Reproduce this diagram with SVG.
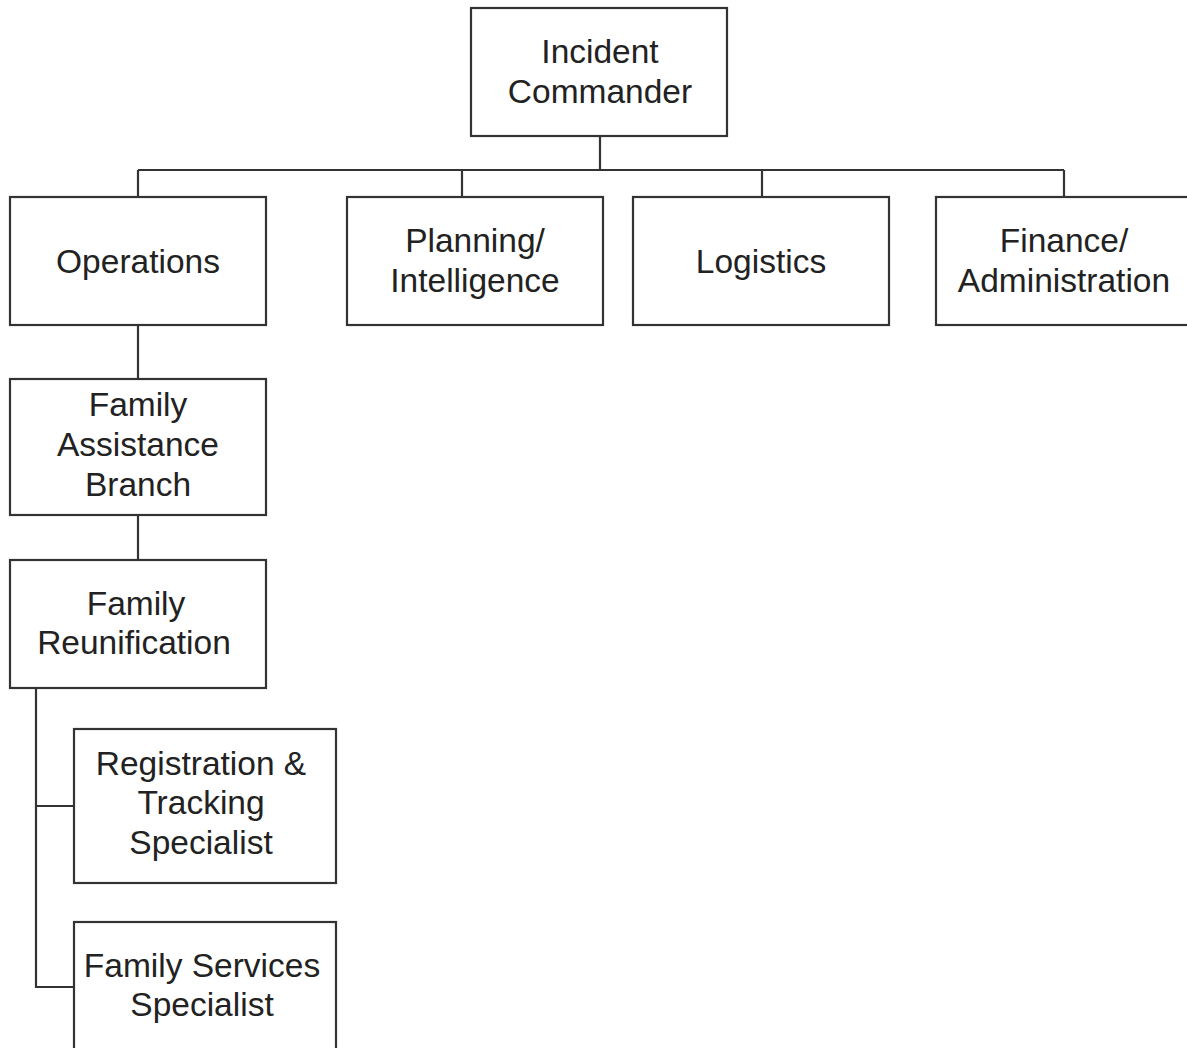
<svg xmlns="http://www.w3.org/2000/svg" width="1187" height="1048" viewBox="0 0 1187 1048">
<style>
.box{fill:#fff;stroke:#333;stroke-width:2.2}
.ln{fill:none;stroke:#333;stroke-width:2.2}
text{font-family:"Liberation Sans",Arial,sans-serif;font-size:33.5px;fill:#222;text-anchor:middle}
</style>
<rect width="1187" height="1048" fill="#fff"/>
<g id="connectors">
<path class="ln" d="M600 136V170M138 170H1064M138 170V197M462 170V197M762 170V197M1064 170V197"/>
<path class="ln" d="M138 325V379M138 515V560"/>
<path class="ln" d="M36 688V987H74M36 806H74"/>
</g>
<g id="incident-commander"><rect class="box" x="471" y="8" width="256" height="128"/><text x="600" y="63">Incident</text><text x="600" y="103">Commander</text></g>
<g id="operations"><rect class="box" x="10" y="197" width="256" height="128"/><text x="138" y="273">Operations</text></g>
<g id="planning"><rect class="box" x="347" y="197" width="256" height="128"/><text x="475" y="252">Planning/</text><text x="475" y="292">Intelligence</text></g>
<g id="logistics"><rect class="box" x="633" y="197" width="256" height="128"/><text x="761" y="273">Logistics</text></g>
<g id="finance"><rect class="box" x="936" y="197" width="256" height="128"/><text x="1064" y="252">Finance/</text><text x="1064" y="292">Administration</text></g>
<g id="family-assistance-branch"><rect class="box" x="10" y="379" width="256" height="136"/><text x="138" y="416">Family</text><text x="138" y="456">Assistance</text><text x="138" y="496">Branch</text></g>
<g id="family-reunification"><rect class="box" x="10" y="560" width="256" height="128"/><text x="136" y="615">Family</text><text x="134" y="654">Reunification</text></g>
<g id="registration-tracking"><rect class="box" x="74" y="729" width="262" height="154"/><text x="201" y="775">Registration &amp;</text><text x="201" y="814">Tracking</text><text x="201" y="854">Specialist</text></g>
<g id="family-services"><rect class="box" x="74" y="922" width="262" height="140"/><text x="202" y="977">Family Services</text><text x="202" y="1016">Specialist</text></g>
</svg>
